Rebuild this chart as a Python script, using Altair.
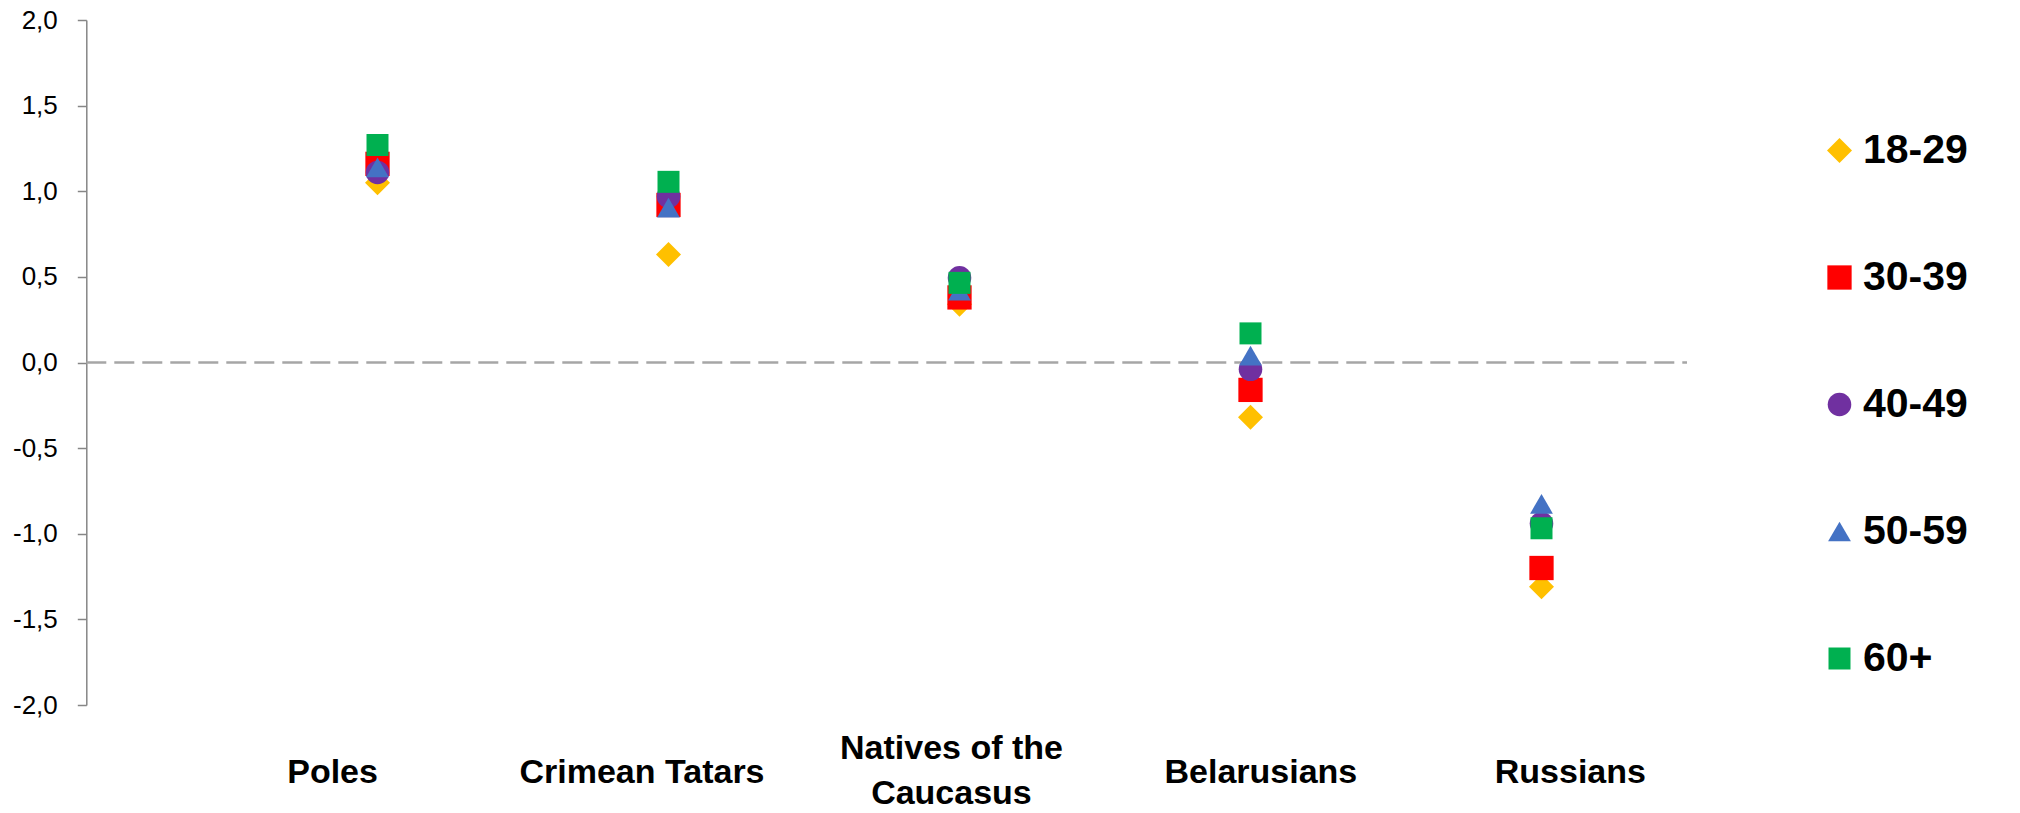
import altair as alt
import pandas as pd

categories = ["Poles", "Crimean Tatars", "Natives of the\nCaucasus", "Belarusians", "Russians"]
ages = ["18-29", "30-39", "40-49", "50-59", "60+"]
v_18_29 = [1.05, 0.63, 0.34, -0.32, -1.31]
v_30_39 = [1.16, 0.92, 0.38, -0.16, -1.20]
v_40_49 = [1.11, 0.97, 0.495, -0.04, -0.94]
v_50_59 = [1.14, 0.905, 0.42, 0.04, -0.825]
v_60p = [1.27, 1.055, 0.465, 0.17, -0.968]
y_ticks = [-2.0, -1.5, -1.0, -0.5, 0.0, 0.5, 1.0, 1.5, 2.0]

colors = ["#FFC000", "#FF0000", "#7030A0", "#4472C4", "#00B050"]
shapes = ["diamond", "square", "circle", "triangle-up", "square"]
sizes = [625, 484, 729, 676, 484]

series = [v_18_29, v_30_39, v_40_49, v_50_59, v_60p]
rows = []
for age, vals in zip(ages, series):
    for cat, v in zip(categories, vals):
        rows.append({"category": cat, "age": age, "value": v})
df = pd.DataFrame(rows)
lab_df = pd.DataFrame({"category": categories, "idx": list(range(len(categories)))})

W, H = 1455, 685
BOLD_FONT = "Liberation Sans Narrow, Arial Narrow, Liberation Sans"

legend = alt.Legend(
    title=None, orient="none", legendX=1587, legendY=110, padding=0,
    labelFont=BOLD_FONT, labelFontSize=41, labelFontWeight="bold", labelColor="#000000",
    rowPadding=85, labelOffset=3, symbolStrokeWidth=0, labelLimit=0,
)

x_enc = alt.X(
    "category:N", sort=categories, title=None,
    scale=alt.Scale(type="band", paddingInner=0, paddingOuter=0),
    axis=None,
)

y_enc = alt.Y(
    "value:Q", title=None,
    scale=alt.Scale(domain=[-2, 2], nice=False, zero=False),
    axis=alt.Axis(
        values=y_ticks, grid=False, offset=145.7,
        domainColor="#868686", domainWidth=1.5, tickColor="#868686", tickWidth=1.5, tickSize=9,
        labelFont="Liberation Sans", labelFontSize=26, labelColor="#000000", labelPadding=20,
        labelExpr="(datum.value < 0 ? '-' : '') + replace(format(abs(datum.value), '.1f'), '.', ',')",
    ),
)

points = alt.Chart(df).mark_point(filled=True, opacity=1, strokeWidth=0).encode(
    x=x_enc,
    y=y_enc,
    color=alt.Color("age:N", scale=alt.Scale(domain=ages, range=colors), legend=legend),
    shape=alt.Shape("age:N", scale=alt.Scale(domain=ages, range=shapes), legend=legend),
    size=alt.Size("age:O", scale=alt.Scale(domain=ages, range=sizes), legend=legend),
)

zero_line = alt.Chart(pd.DataFrame({"z": [0.0]})).mark_rule(
    color="#A6A6A6", strokeWidth=2.5, strokeDash=[20, 8]
).encode(
    y=alt.Y("z:Q"),
    x=alt.value(-145.7),
    x2=alt.value(W),
)

label_x = alt.X("idx:Q", scale=alt.Scale(domain=[-0.325, 4.377], nice=False, zero=False), axis=None)
base_text = alt.Chart(lab_df).mark_text(
    lineBreak="\n", baseline="middle", align="center", lineHeight=45,
    font=BOLD_FONT, fontSize=34, fontWeight="bold", color="#000000",
).encode(x=label_x, text="category:N")
single = base_text.transform_filter("indexof(datum.category, '\\n') < 0").encode(y=alt.value(H + 68))
multi = base_text.transform_filter("indexof(datum.category, '\\n') >= 0").encode(y=alt.value(H + 68 - 24))

chart = alt.layer(zero_line, points, single, multi).resolve_scale(x="independent").properties(
    width=W, height=H,
    background="white",
    autosize=alt.AutoSizeParams(type="none"),
    padding={"left": 224, "top": 12, "right": 320, "bottom": 105},
).configure_view(stroke=None, strokeWidth=0)

chart.save("out.html", embed_options={"renderer": "svg", "actions": False})
